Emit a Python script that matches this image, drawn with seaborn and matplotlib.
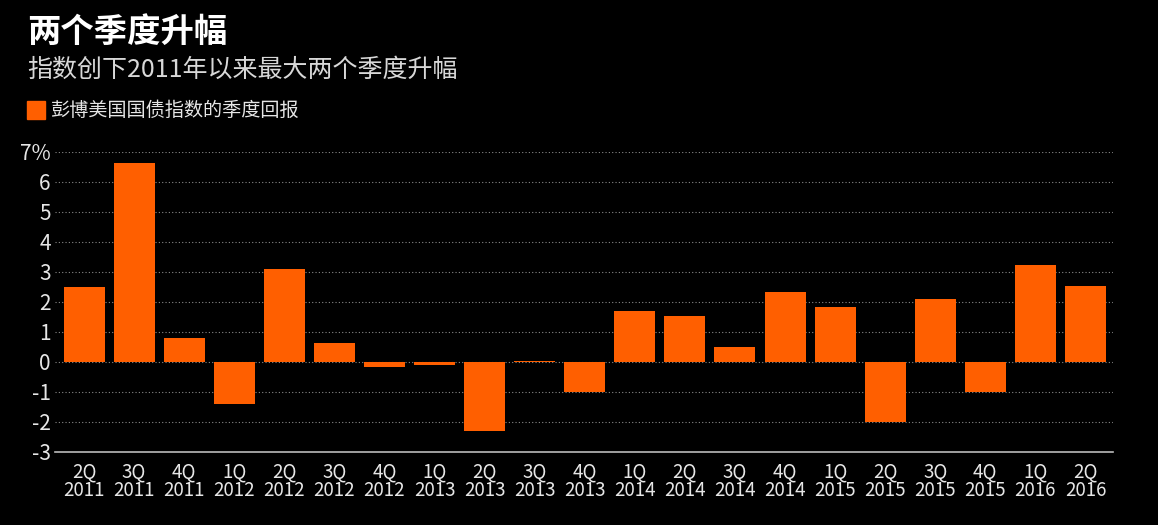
import matplotlib
matplotlib.use('Agg')
import matplotlib.pyplot as plt
import seaborn as sns
import pandas as pd
from matplotlib.patches import Rectangle

quarters = ['2Q\n2011', '3Q\n2011', '4Q\n2011', '1Q\n2012', '2Q\n2012', '3Q\n2012', '4Q\n2012',
            '1Q\n2013', '2Q\n2013', '3Q\n2013', '4Q\n2013', '1Q\n2014', '2Q\n2014', '3Q\n2014',
            '4Q\n2014', '1Q\n2015', '2Q\n2015', '3Q\n2015', '4Q\n2015', '1Q\n2016', '2Q\n2016']
returns = [2.5, 6.63, 0.8, -1.4, 3.1, 0.63, -0.18, -0.1, -2.3, 0.03, -1.0,
           1.7, 1.53, 0.5, 2.33, 1.83, -2.0, 2.1, -1.0, 3.23, 2.53]
yticks = [-3, -2, -1, 0, 1, 2, 3, 4, 5, 6, 7]
ytick_labels = ['-3', '-2', '-1', '0', '1', '2', '3', '4', '5', '6', '7%']

title = '两个季度升幅'
subtitle = '指数创下2011年以来最大两个季度升幅'
legend_label = '彭博美国国债指数的季度回报'

bar_color = '#ff5f00'
text_color = '#e6e6e6'

sns.set_style('dark', {'axes.facecolor': 'black', 'figure.facecolor': 'black'})
plt.rcParams['font.family'] = ['Noto Sans CJK SC', 'DejaVu Sans']

df = pd.DataFrame({'quarter': quarters, 'ret': returns})

fig = plt.figure(figsize=(11.58, 5.25), dpi=100)
fig.patch.set_facecolor('black')
ax = fig.add_axes([55 / 1158, 1 - 452 / 525, (1113 - 55) / 1158, 300 / 525])
ax.set_facecolor('black')

sns.barplot(data=df, x='quarter', y='ret', color=bar_color, width=0.82,
            saturation=1, linewidth=0, edgecolor='none', ax=ax, zorder=3)

ax.set_ylim(-3, 7)
ax.set_xlim(-0.58, 20.55)
ax.set_yticks(yticks)
ax.set_yticklabels(ytick_labels)
for y in yticks[1:]:
    ax.axhline(y, color='#8a8a8a', lw=0.8, ls=(0, (1, 2)), zorder=1)

ax.set_xlabel('')
ax.set_ylabel('')
for s in ['top', 'right', 'left']:
    ax.spines[s].set_visible(False)
ax.spines['bottom'].set_color('#bbbbbb')
ax.spines['bottom'].set_linewidth(1.2)

ax.tick_params(axis='x', colors='#bbbbbb', labelcolor=text_color, labelsize=13.5,
               length=5, width=1, direction='out', pad=2)
ax.tick_params(axis='y', colors=text_color, labelsize=15, length=0, pad=3)
for lbl in ax.get_xticklabels():
    lbl.set_linespacing(0.8)

fig.text(27 / 1158, 1 - 32 / 525, title, color='white', fontsize=24, fontweight='bold',
         va='center', ha='left')
fig.text(27 / 1158, 1 - 70 / 525, subtitle, color='#d8d8d8', fontsize=18,
         va='center', ha='left')
fig.patches.append(Rectangle((27 / 1158, 1 - 119 / 525), 18 / 1158, 18 / 525,
                             transform=fig.transFigure, color=bar_color))
fig.text(51 / 1158, 1 - 110 / 525, legend_label, color=text_color, fontsize=13.8,
         va='center', ha='left')

fig.savefig('out.png', dpi=100, facecolor='black')
